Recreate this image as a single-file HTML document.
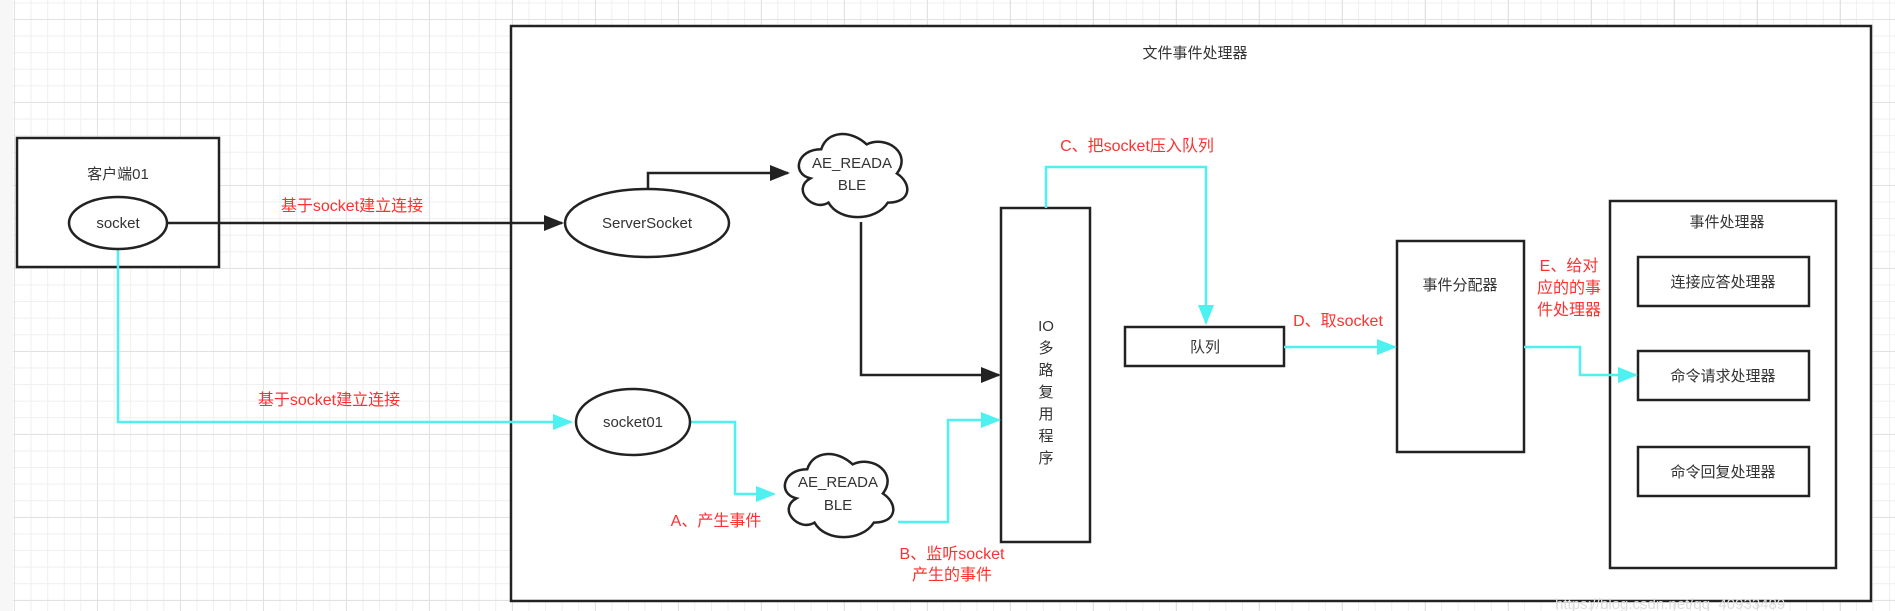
<!DOCTYPE html>
<html><head><meta charset="utf-8"><style>
html,body{margin:0;padding:0;}
body{width:1895px;height:611px;overflow:hidden;background:#fff;
background-image:
linear-gradient(to right,#f7f7f7 0 13px,transparent 13px),
linear-gradient(to right,#e2e2e2 1px,transparent 1px),
linear-gradient(to bottom,#e2e2e2 1px,transparent 1px),
linear-gradient(to right,#efefef 1px,transparent 1px),
linear-gradient(to bottom,#efefef 1px,transparent 1px);
background-size:100% 100%,83px 83px,83px 83px,16.6px 16.6px,16.6px 16.6px;
background-position:0 0,14px 0,0 19px,14px 0,0 19px;
background-repeat:no-repeat,repeat,repeat,repeat,repeat;}
svg{position:absolute;left:0;top:0;}
text{font-family:"Liberation Sans","Noto Sans CJK SC",sans-serif;font-size:15px;fill:#333;}
.r{fill:#ff3030;font-size:16px;}
</style></head><body>
<svg width="1895" height="611" viewBox="0 0 1895 611">
<defs>
<marker id="ab" viewBox="0 0 10 8" refX="9" refY="4" markerWidth="8" markerHeight="6.4" orient="auto"><path d="M0,0 L10,4 L0,8 Z" fill="#222"/></marker>
<marker id="ac" viewBox="0 0 10 8" refX="9" refY="4" markerWidth="8" markerHeight="6.4" orient="auto"><path d="M0,0 L10,4 L0,8 Z" fill="#4ff0f0"/></marker>
</defs>
<rect x="511" y="26" width="1360" height="575" fill="#fff" stroke="#222" stroke-width="2.5"/>
<text x="1195" y="58" text-anchor="middle">文件事件处理器</text>

<rect x="17" y="138" width="202" height="129" fill="#fff" stroke="#222" stroke-width="2.5"/>
<text x="118" y="179" text-anchor="middle">客户端01</text>

<text class="r" x="352" y="211" text-anchor="middle">基于socket建立连接</text>
<text class="r" x="329" y="405" text-anchor="middle">基于socket建立连接</text>

<g transform="translate(791,125) scale(121,97)"><path d="M0.25,0.25 C0.05,0.25 0,0.5 0.16,0.55 C0,0.66 0.18,0.9 0.31,0.8 C0.4,1 0.7,1 0.8,0.8 C1,0.8 1,0.6 0.875,0.5 C1,0.3 0.8,0.1 0.625,0.2 C0.5,0.05 0.3,0.05 0.25,0.25 Z" fill="#fff" stroke="#222" stroke-width="2.5" vector-effect="non-scaling-stroke"/></g>
<text x="852" y="168" text-anchor="middle">AE_READA</text>
<text x="852" y="190" text-anchor="middle">BLE</text>
<g transform="translate(777,445) scale(121,97)"><path d="M0.25,0.25 C0.05,0.25 0,0.5 0.16,0.55 C0,0.66 0.18,0.9 0.31,0.8 C0.4,1 0.7,1 0.8,0.8 C1,0.8 1,0.6 0.875,0.5 C1,0.3 0.8,0.1 0.625,0.2 C0.5,0.05 0.3,0.05 0.25,0.25 Z" fill="#fff" stroke="#222" stroke-width="2.5" vector-effect="non-scaling-stroke"/></g>
<text x="838" y="487" text-anchor="middle">AE_READA</text>
<text x="838" y="510" text-anchor="middle">BLE</text>
<text class="r" x="716" y="526" text-anchor="middle">A、产生事件</text>
<text class="r" x="952" y="559" text-anchor="middle">B、监听socket</text>
<text class="r" x="952" y="580" text-anchor="middle">产生的事件</text>

<rect x="1001" y="208" width="89" height="334" fill="#fff" stroke="#222" stroke-width="2.5"/>
<g text-anchor="middle">
<text x="1046" y="331">IO</text><text x="1046" y="353">多</text><text x="1046" y="375">路</text><text x="1046" y="397">复</text><text x="1046" y="419">用</text><text x="1046" y="441">程</text><text x="1046" y="463">序</text>
</g>
<text class="r" x="1137" y="151" text-anchor="middle">C、把socket压入队列</text>
<rect x="1125" y="327" width="159" height="39" fill="#fff" stroke="#222" stroke-width="2.5"/>
<text x="1205" y="352" text-anchor="middle">队列</text>
<text class="r" x="1338" y="326" text-anchor="middle">D、取socket</text>

<rect x="1397" y="241" width="127" height="211" fill="#fff" stroke="#222" stroke-width="2.5"/>
<text x="1460" y="290" text-anchor="middle">事件分配器</text>
<text class="r" x="1569" y="271" text-anchor="middle">E、给对</text>
<text class="r" x="1569" y="293" text-anchor="middle">应的的事</text>
<text class="r" x="1569" y="315" text-anchor="middle">件处理器</text>

<rect x="1610" y="201" width="226" height="367" fill="#fff" stroke="#222" stroke-width="2.5"/>
<text x="1727" y="227" text-anchor="middle">事件处理器</text>
<rect x="1638" y="257" width="171" height="49" fill="#fff" stroke="#222" stroke-width="2.5"/>
<text x="1723" y="287" text-anchor="middle">连接应答处理器</text>
<rect x="1638" y="351" width="171" height="49" fill="#fff" stroke="#222" stroke-width="2.5"/>
<text x="1723" y="381" text-anchor="middle">命令请求处理器</text>
<rect x="1638" y="447" width="171" height="49" fill="#fff" stroke="#222" stroke-width="2.5"/>
<text x="1723" y="477" text-anchor="middle">命令回复处理器</text>

<g fill="none" stroke-width="2.5">
<path d="M167,223 H562" stroke="#222" marker-end="url(#ab)"/>
<path d="M648,189 V173 H788" stroke="#222" marker-end="url(#ab)"/>
<path d="M861,222 V375 H999" stroke="#222" marker-end="url(#ab)"/>
<path d="M118,249 V422 H571" stroke="#4ff0f0" marker-end="url(#ac)"/>
<path d="M691,422 H735 V494 H774" stroke="#4ff0f0" marker-end="url(#ac)"/>
<path d="M898,522 H948 V420 H999" stroke="#4ff0f0" marker-end="url(#ac)"/>
<path d="M1046,208 V167 H1206 V323" stroke="#4ff0f0" marker-end="url(#ac)"/>
<path d="M1284,347 H1395" stroke="#4ff0f0" marker-end="url(#ac)"/>
<path d="M1524,347 H1580 V375 H1636" stroke="#4ff0f0" marker-end="url(#ac)"/>
</g>
<ellipse cx="118" cy="223" rx="49" ry="26" fill="#fff" stroke="#222" stroke-width="2.5"/>
<text x="118" y="228" text-anchor="middle">socket</text>
<ellipse cx="647" cy="223" rx="82" ry="34" fill="#fff" stroke="#222" stroke-width="2.5"/>
<text x="647" y="228" text-anchor="middle">ServerSocket</text>
<ellipse cx="633" cy="422" rx="57" ry="33" fill="#fff" stroke="#222" stroke-width="2.5"/>
<text x="633" y="427" text-anchor="middle">socket01</text>
<text x="1555" y="609" style="fill:#ddd;font-size:15px">https://blog.csdn.net/qq_40933489</text>
</svg>
</body></html>
